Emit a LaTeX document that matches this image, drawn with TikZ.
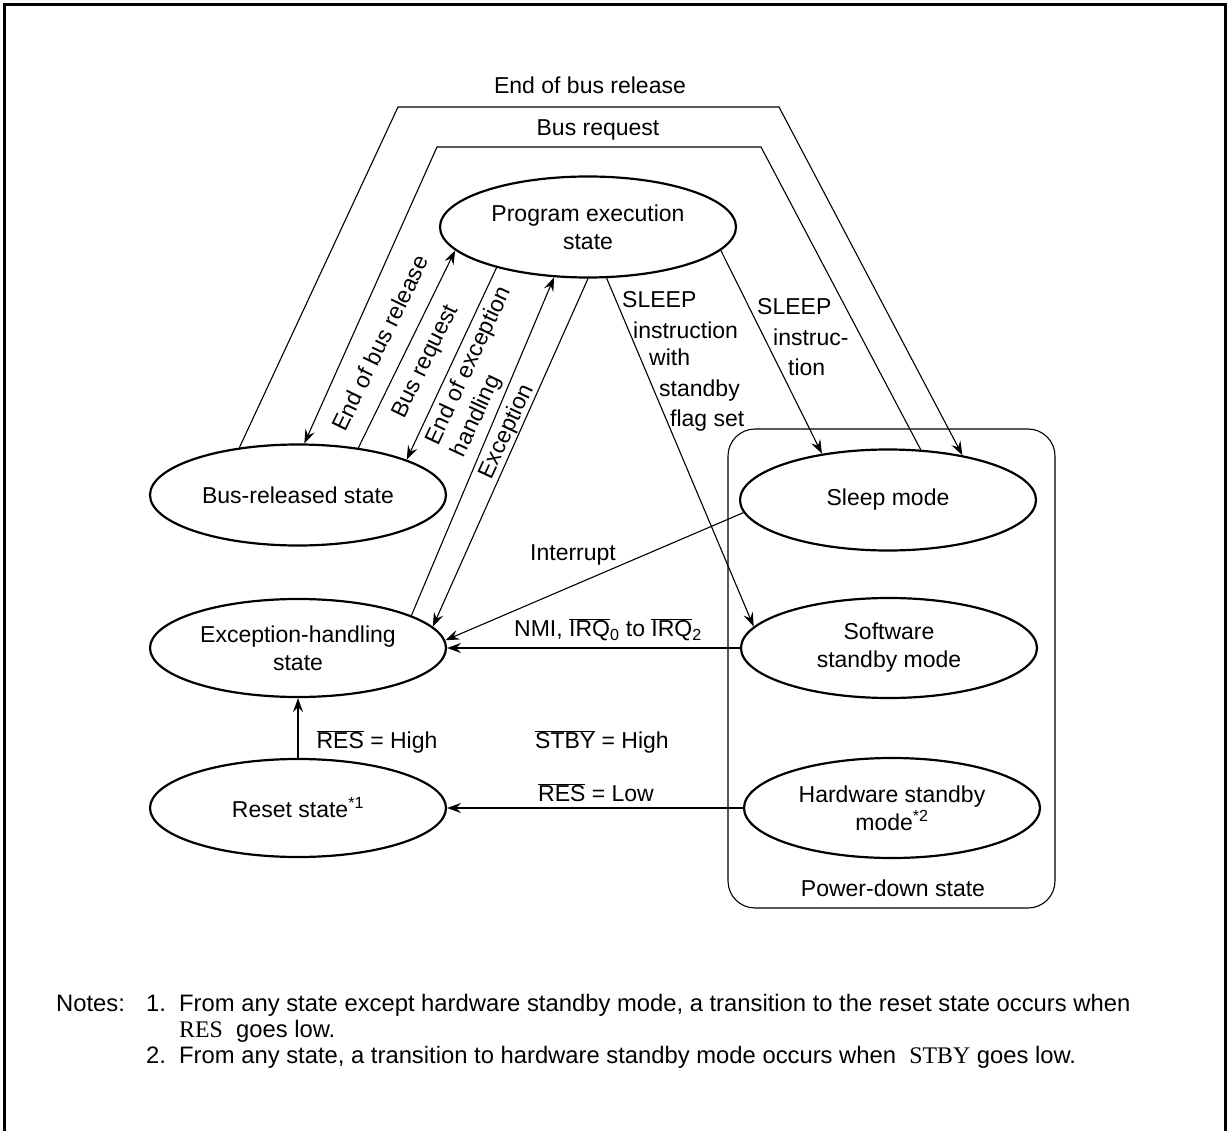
\documentclass[tikz,border=0pt]{standalone}
\usepackage{fontspec}
\setmainfont{Liberation Sans}
\newfontfamily\notesserif{Liberation Serif}
\usetikzlibrary{arrows.meta,shapes.geometric}
\newcommand\ovl[1]{\ensuremath{\overline{\mbox{#1}}}}
\begin{document}
\begin{tikzpicture}[x=1pt,y=-1pt,font=\fontsize{23}{28}\selectfont,
  state/.style={ellipse,draw,line width=2.2pt,minimum width=296pt,minimum height=101pt,inner sep=0pt,align=center},
  conn/.style={line width=1.1pt},
  arr/.style={conn,-{Stealth[length=14pt,width=10pt,inset=5pt]}},
  lbl/.style={inner sep=0pt},
  bl/.style={inner sep=0pt,anchor=base west},
  note/.style={inner sep=0pt,anchor=base west,font=\fontsize{23.8}{28}\selectfont}]
\useasboundingbox (0,0) rectangle (1231,1131);
% frame
\draw[line width=3pt] (4.5,1140) -- (4.5,5) -- (1225.5,5) -- (1225.5,1140);
% power-down container
\node[draw,line width=1.1pt,rounded corners=27pt,minimum width=327pt,minimum height=479pt,inner sep=0pt] (PD) at (891.5,668.5) {};
\node[lbl] (PDl) at (893,888) {Power-down state};
% states
\node[state] (P) at (588,227) {Program execution\\state};
\node[state] (B) at (298,495) {Bus-released state};
\node[state,minimum height=98pt] (E) at (298,648) {Exception-handling\\state};
\node[state,minimum height=98pt] (R) at (298,808) {Reset state\textsuperscript{*1}};
\node[state] (S) at (888,500) {Sleep mode};
\node[state,minimum height=100pt] (W) at (889,648) {Software\\standby mode};
\node[state,minimum height=100pt] (H) at (892,808) {Hardware standby\\mode\textsuperscript{*2}};
% bus release polylines
\coordinate (oL) at (398,107);
\coordinate (oR) at (779,107);
\coordinate (iL) at (437,147);
\coordinate (iR) at (761,147);
\draw[arr] (B.141) -- (oL) -- (oR) -- (S.31);
\draw[arr] (S.57) -- (iR) -- (iL) -- (B.83);
\node[lbl] (tEnd) at (590,85) {End of bus release};
\node[lbl] (tReq) at (598,130) {Bus request};
% program <-> bus released
\draw[arr] (B.38) -- (P.190);
\draw[arr] (P.204) -- (B.18);
\node[lbl,rotate=64] (lEnd) at (380,343) {End of bus release};
\node[lbl,rotate=64] (lReq) at (426,362) {Bus request};
% program <-> exception
\draw[arr] (E.16) -- (P.236);
\draw[arr] (P.270) -- (E.9);
\node[lbl,rotate=65,align=left] (lEEH) at (482,372) {End of exception\\handling};
\node[lbl,rotate=65] (lExc) at (507,432) {Exception};
% sleep instructions
\draw[arr] (P.290) -- (W.171);
\draw[arr] (P.350) -- (S.145);
\node[bl] at (622,308) {SLEEP};
\node[bl] at (633,338) {instruction};
\node[bl] at (649,366) {with};
\node[bl] at (659,396) {standby};
\node[bl] at (670,426) {flag set};
\node[bl] at (757,315) {SLEEP};
\node[bl] at (773,346) {instruc-};
\node[bl] at (788,375) {tion};
% interrupts
\draw[arr] (S.185) -- (E.3);
\node[lbl] (lInt) at (573,555) {Interrupt};
\draw[arr] (W.180) -- (E.0);
\node[lbl] (lNMI) at (608,630) {NMI, \ovl{IRQ}\textsubscript{0} to \ovl{IRQ}\textsubscript{2}};
% reset
\draw[arr] (R.90) -- (E.270);
\node[lbl] (lRH) at (377,742) {\ovl{RES} = High};
\node[lbl] (lSH) at (602,742) {\ovl{STBY} = High};
\draw[arr] (H.180) -- (R.0);
\node[lbl] (lRL) at (596,793) {\ovl{RES} = Low};
% notes
\node[note] at (56,1011) {Notes:};
\node[note] at (146,1011) {1.};
\node[note] at (179,1011) {From any state except hardware standby mode, a transition to the reset state occurs when};
\node[note] at (179,1037) {{\notesserif RES}\ \ goes low.};
\node[note] at (146,1063) {2.};
\node[note] at (179,1063) {From any state, a transition to hardware standby mode occurs when\ \ {\notesserif STBY} goes low.};
\end{tikzpicture}
\end{document}
